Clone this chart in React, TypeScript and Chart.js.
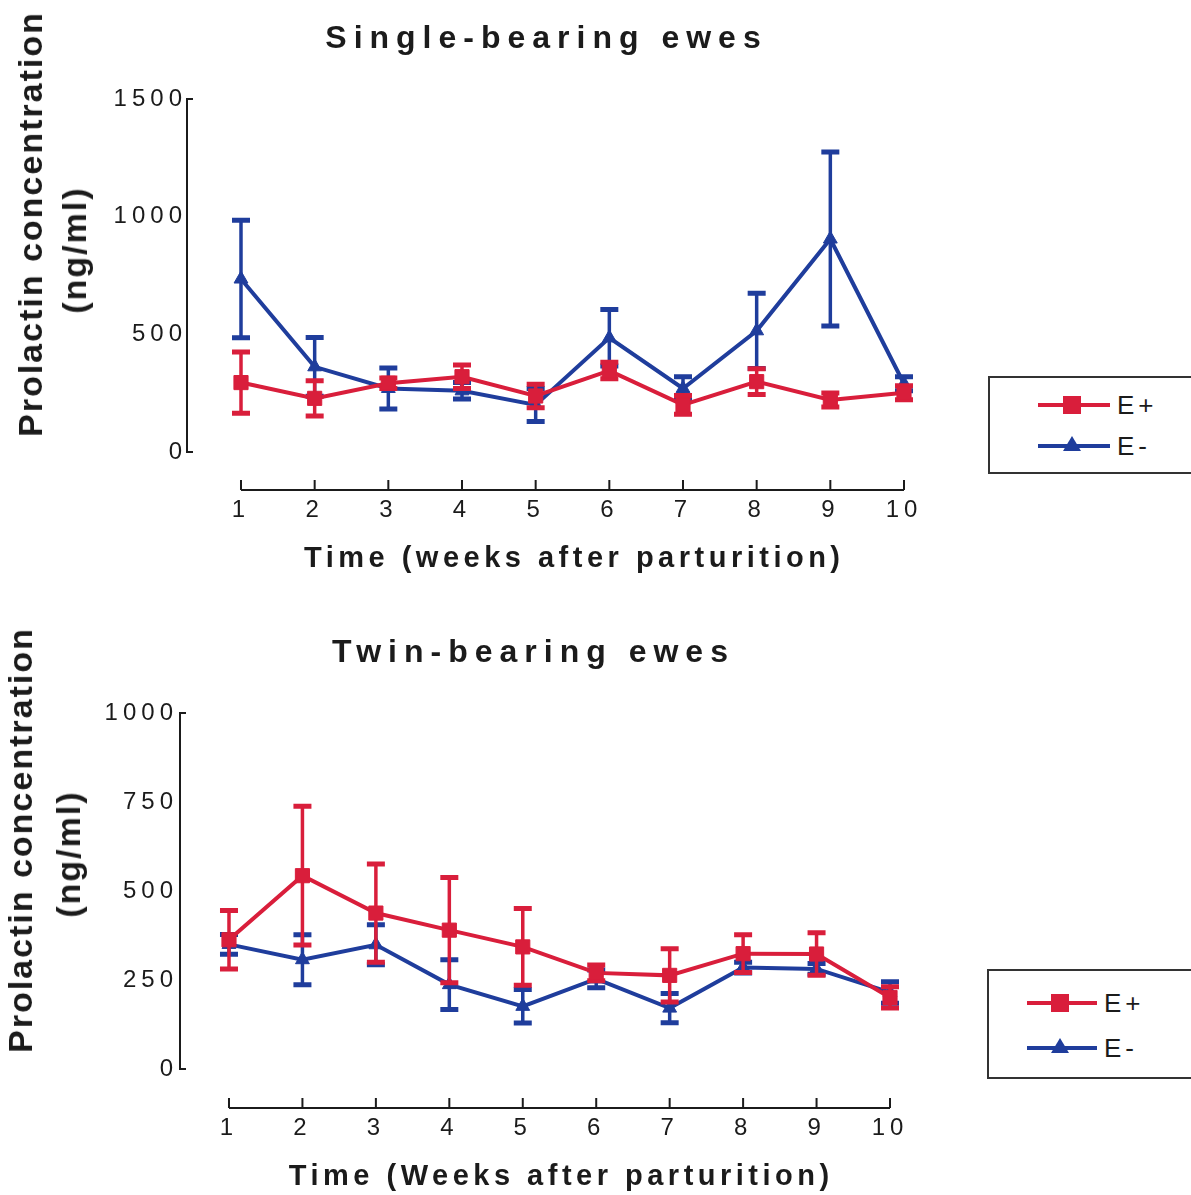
import React, { useEffect, useRef } from 'react';
import { Chart, registerables } from 'chart.js';

Chart.register(...registerables);

// Weeks after parturition (x values of every series)
const weeks = [1, 2, 3, 4, 5, 6, 7, 8, 9, 10];

// Single-bearing ewes: prolactin mean and SEM (ng/ml)
const singleEPlus = [295, 228, 292, 320, 238, 346, 200, 299, 221, 252];
const singleEPlusSem = [130, 75, 22, 50, 50, 35, 40, 55, 30, 30];
const singleEMinus = [735, 362, 270, 260, 200, 485, 270, 515, 905, 290];
const singleEMinusSem = [250, 125, 87, 35, 70, 120, 50, 160, 370, 30];

// Twin-bearing ewes: prolactin mean and SEM (ng/ml)
const twinEPlus = [363, 543, 438, 390, 343, 270, 263, 324, 323, 201];
const twinEPlusSem = [82, 195, 138, 148, 108, 22, 75, 53, 60, 30];
const twinEMinus = [350, 307, 349, 237, 176, 253, 171, 285, 281, 215];
const twinEMinusSem = [28, 70, 56, 70, 47, 25, 41, 15, 15, 30];

// Y-axis tick values
const singleYTicks = [0, 500, 1000, 1500];
const twinYTicks = [0, 250, 500, 750, 1000];

const seriesLabels = ['E+', 'E-'];

const W = 1191;
const RED = '#D91E3B';
const BLUE = '#1F3D9C';
const INK = '#1b1b1b';
const FONT = '"Liberation Sans", Arial, Helvetica, sans-serif';
const X_SCALE_H = 70;

type PanelSpec = {
  top: number;
  height: number;
  plotLeft: number;
  plotTop: number;
  plotBottom: number;
  plotRight: number;
  xMin: number;
  yMax: number;
  yTicks: number[];
  yLabelPad: number;
  xLabelPad: number;
  axisGap: number;
  ePlus: number[];
  ePlusSem: number[];
  eMinus: number[];
  eMinusSem: number[];
};

const singleSpec: PanelSpec = {
  top: 0,
  height: 600,
  plotLeft: 187,
  plotTop: 99,
  plotBottom: 452,
  plotRight: 904,
  xMin: 0.267,
  yMax: 1500,
  yTicks: singleYTicks,
  yLabelPad: 0,
  xLabelPad: 44,
  axisGap: 38,
  ePlus: singleEPlus,
  ePlusSem: singleEPlusSem,
  eMinus: singleEMinus,
  eMinusSem: singleEMinusSem,
};

const twinSpec: PanelSpec = {
  top: 600,
  height: 595,
  plotLeft: 180,
  plotTop: 113,
  plotBottom: 469,
  plotRight: 890,
  xMin: 0.333,
  yMax: 1000,
  yTicks: twinYTicks,
  yLabelPad: 2,
  xLabelPad: 45,
  axisGap: 39,
  ePlus: twinEPlus,
  ePlusSem: twinEPlusSem,
  eMinus: twinEMinus,
  eMinusSem: twinEMinusSem,
};

// Vertical SEM bars with caps, drawn just before each series' line
const errorBars = {
  id: 'errorBars',
  beforeDatasetDraw(chart: any, args: any) {
    const ds = chart.data.datasets[args.index];
    const sem: number[] | undefined = ds.sem;
    if (!sem) return;
    const { ctx } = chart;
    const y = chart.scales.y;
    ctx.save();
    ctx.strokeStyle = ds.borderColor;
    args.meta.data.forEach((pt: any, i: number) => {
      const v = ds.data[i].y;
      const hi = y.getPixelForValue(v + sem[i]);
      const lo = y.getPixelForValue(Math.max(0, v - sem[i]));
      ctx.lineWidth = 3.5;
      ctx.beginPath();
      ctx.moveTo(pt.x, hi);
      ctx.lineTo(pt.x, lo);
      ctx.stroke();
      ctx.lineWidth = 5;
      ctx.beginPath();
      ctx.moveTo(pt.x - 9, hi);
      ctx.lineTo(pt.x + 9, hi);
      ctx.moveTo(pt.x - 9, lo);
      ctx.lineTo(pt.x + 9, lo);
      ctx.stroke();
    });
    ctx.restore();
  },
};

// Detached time axis below the plot, and the bracket ends of the y axis
const axisFrame = {
  id: 'axisFrame',
  beforeDraw(chart: any) {
    chart.ctx.letterSpacing = '5px';
  },
  afterDraw(chart: any, _args: any, opts: any) {
    const { ctx, chartArea } = chart;
    const { x, y } = chart.scales;
    ctx.save();
    ctx.letterSpacing = '0px';
    ctx.strokeStyle = INK;
    ctx.lineWidth = 2;
    const left = chartArea.left;
    const y0 = y.getPixelForValue(0);
    const yM = y.getPixelForValue(y.max);
    ctx.beginPath();
    ctx.moveTo(left, yM);
    ctx.lineTo(left + 6, yM);
    ctx.moveTo(left, y0);
    ctx.lineTo(left + 6, y0);
    ctx.stroke();

    const base = y0 + opts.gap;
    const xa = x.getPixelForValue(weeks[0]);
    const xb = x.getPixelForValue(weeks[weeks.length - 1]);
    ctx.beginPath();
    ctx.moveTo(xa, base);
    ctx.lineTo(xb, base);
    weeks.forEach((w) => {
      const px = x.getPixelForValue(w);
      ctx.moveTo(px, base);
      ctx.lineTo(px, base - 10);
    });
    ctx.stroke();
    ctx.restore();
  },
};

function makeConfig(spec: PanelSpec): any {
  const tickFont = { family: FONT, size: 24 };
  return {
    type: 'line',
    data: {
      datasets: [
        {
          label: seriesLabels[0],
          data: weeks.map((w, i) => ({ x: w, y: spec.ePlus[i] })),
          sem: spec.ePlusSem,
          borderColor: RED,
          backgroundColor: RED,
          borderWidth: 4,
          pointStyle: 'rect',
          pointRadius: 10,
          pointBorderWidth: 1,
          pointBackgroundColor: RED,
          pointBorderColor: RED,
          clip: false,
          tension: 0,
        },
        {
          label: seriesLabels[1],
          data: weeks.map((w, i) => ({ x: w, y: spec.eMinus[i] })),
          sem: spec.eMinusSem,
          borderColor: BLUE,
          backgroundColor: BLUE,
          borderWidth: 4,
          pointStyle: 'triangle',
          pointRadius: 8,
          pointBorderWidth: 1,
          pointBackgroundColor: BLUE,
          pointBorderColor: BLUE,
          clip: false,
          tension: 0,
        },
      ],
    },
    options: {
      animation: false,
      responsive: false,
      layout: {
        padding: {
          left: 0,
          top: spec.plotTop,
          right: W - spec.plotRight,
          bottom: spec.height - spec.plotBottom - X_SCALE_H,
        },
      },
      plugins: {
        legend: { display: false },
        title: { display: false },
        tooltip: { enabled: false },
        axisFrame: { gap: spec.axisGap },
      },
      scales: {
        x: {
          type: 'linear',
          min: spec.xMin,
          max: weeks[weeks.length - 1],
          afterBuildTicks: (s: any) => {
            s.ticks = weeks.map((v) => ({ value: v }));
          },
          afterFit: (s: any) => {
            s.height = X_SCALE_H;
          },
          grid: { display: false, drawTicks: false },
          border: { display: false },
          ticks: {
            padding: spec.xLabelPad,
            font: tickFont,
            color: INK,
            maxRotation: 0,
            autoSkip: false,
            callback: (v: any) => String(v),
          },
        },
        y: {
          min: 0,
          max: spec.yMax,
          afterBuildTicks: (s: any) => {
            s.ticks = spec.yTicks.map((v) => ({ value: v }));
          },
          afterFit: (s: any) => {
            s.width = spec.plotLeft;
          },
          grid: { display: true, drawOnChartArea: false, drawTicks: false, color: INK },
          border: { display: true, color: INK, width: 2 },
          ticks: {
            padding: spec.yLabelPad,
            font: tickFont,
            color: INK,
            callback: (v: any) => String(v),
          },
        },
      },
    },
    plugins: [errorBars, axisFrame],
  };
}

function Panel({ spec }: { spec: PanelSpec }) {
  const ref = useRef<HTMLCanvasElement>(null);
  useEffect(() => {
    const chart = new Chart(ref.current as HTMLCanvasElement, makeConfig(spec));
    return () => chart.destroy();
  }, [spec]);
  return (
    <canvas
      ref={ref}
      width={W}
      height={spec.height}
      style={{ position: 'absolute', left: 0, top: spec.top, width: W, height: spec.height }}
    />
  );
}

type LabelProps = {
  text: string;
  x: number;
  y: number;
  size: number;
  weight?: number;
  spacing?: number;
  rotate?: boolean;
};

function Label({ text, x, y, size, weight = 700, spacing = 0, rotate = false }: LabelProps) {
  return (
    <div
      style={{
        position: 'absolute',
        left: x,
        top: y,
        transform: `translate(-50%, -50%)${rotate ? ' rotate(-90deg)' : ''}`,
        fontFamily: FONT,
        fontSize: size,
        fontWeight: weight,
        letterSpacing: spacing,
        paddingLeft: spacing,
        whiteSpace: 'nowrap',
        color: INK,
        lineHeight: 1,
      }}
    >
      {text}
    </div>
  );
}

type LegendProps = {
  left: number;
  top: number;
  height: number;
  lineX1: number;
  lineX2: number;
  markerX: number;
  textX: number;
  rowY: [number, number];
};

function LegendBox({ left, top, height, lineX1, lineX2, markerX, textX, rowY }: LegendProps) {
  const width = W - left + 6;
  const lx1 = lineX1 - left;
  const lx2 = lineX2 - left;
  const mx = markerX - left;
  const r0 = rowY[0] - top;
  const r1 = rowY[1] - top;
  return (
    <div
      style={{
        position: 'absolute',
        left,
        top,
        width,
        height,
        border: '2px solid #333',
        boxSizing: 'border-box',
        background: '#fff',
      }}
    >
      <svg width={width} height={height} style={{ position: 'absolute', left: -2, top: -2 }}>
        <line x1={lx1} y1={r0} x2={lx2} y2={r0} stroke={RED} strokeWidth={4} />
        <rect x={mx - 9} y={r0 - 9} width={18} height={18} fill={RED} />
        <line x1={lx1} y1={r1} x2={lx2} y2={r1} stroke={BLUE} strokeWidth={4} />
        <polygon points={`${mx},${r1 - 10} ${mx + 9},${r1 + 5} ${mx - 9},${r1 + 5}`} fill={BLUE} />
      </svg>
      {[seriesLabels[0], seriesLabels[1]].map((t, i) => (
        <div
          key={t}
          style={{
            position: 'absolute',
            left: textX - left - 2,
            top: rowY[i] - top - 2,
            transform: 'translateY(-50%)',
            fontFamily: FONT,
            fontSize: 26,
            letterSpacing: 4,
            color: INK,
            lineHeight: 1,
            whiteSpace: 'nowrap',
          }}
        >
          {t}
        </div>
      ))}
    </div>
  );
}

export default function App() {
  return (
    <div
      style={{
        position: 'absolute',
        left: 0,
        top: 0,
        width: W,
        height: 1195,
        overflow: 'hidden',
        background: '#fff',
      }}
    >
      <Panel spec={singleSpec} />
      <Panel spec={twinSpec} />

      <Label text="Single-bearing ewes" x={543} y={37} size={32} spacing={7} />
      <Label text="Prolactin concentration" x={30} y={225} size={34} spacing={2} rotate />
      <Label text="(ng/ml)" x={74} y={251} size={34} spacing={2} rotate />
      <Label text="Time (weeks after parturition)" x={572} y={557} size={29} spacing={4.5} />
      <LegendBox
        left={988}
        top={376}
        height={98}
        lineX1={1038}
        lineX2={1110}
        markerX={1072}
        textX={1117}
        rowY={[405, 446]}
      />

      <Label text="Twin-bearing ewes" x={530} y={651} size={32} spacing={7} />
      <Label text="Prolactin concentration" x={20} y={841} size={34} spacing={2} rotate />
      <Label text="(ng/ml)" x={68} y={855} size={34} spacing={2} rotate />
      <Label text="Time (Weeks after parturition)" x={559} y={1175} size={29} spacing={4.5} />
      <LegendBox
        left={987}
        top={969}
        height={110}
        lineX1={1027}
        lineX2={1097}
        markerX={1060}
        textX={1104}
        rowY={[1003, 1048]}
      />
    </div>
  );
}
